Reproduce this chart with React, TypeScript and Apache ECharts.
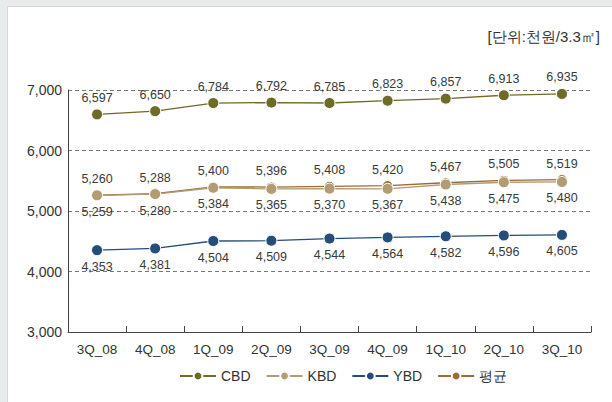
import React, { useEffect, useRef } from "react";
import * as echarts from "echarts";

const quarters = ["3Q_08", "4Q_08", "1Q_09", "2Q_09", "3Q_09", "4Q_09", "1Q_10", "2Q_10", "3Q_10"];
const cbd = [6597, 6650, 6784, 6792, 6785, 6823, 6857, 6913, 6935];
const kbd = [5259, 5280, 5384, 5365, 5370, 5367, 5438, 5475, 5480];
const ybd = [4353, 4381, 4504, 4509, 4544, 4564, 4582, 4596, 4605];
const avg = [5260, 5288, 5400, 5396, 5408, 5420, 5467, 5505, 5519];
const yTicks = [3000, 4000, 5000, 6000, 7000];

const FONT = "'Liberation Sans', Arial, sans-serif";
const fmt = (v: number) => v.toLocaleString("en-US");

function makeSeries(name: string, data: number[], color: string, pos: "top" | "bottom", size: number, z: number) {
  return {
    name,
    type: "line",
    data,
    z,
    symbol: "circle",
    symbolSize: size,
    lineStyle: { color, width: 1.3 },
    itemStyle: { color, borderColor: "#ffffff", borderWidth: 1 },
    label: {
      show: true,
      position: pos,
      distance: 4,
      color: "#3a3a3a",
      fontSize: 12.5,
      fontFamily: FONT,
      formatter: (p: any) => fmt(p.value),
    },
  };
}

export default function App() {
  const ref = useRef<HTMLDivElement>(null);
  useEffect(() => {
    if (!ref.current) return;
    const chart = echarts.init(ref.current, undefined, { renderer: "svg" });
    chart.setOption({
      animation: false,
      backgroundColor: "#e8ebeb",
      textStyle: { fontFamily: FONT },
      graphic: [
        { type: "rect", left: 7, top: 6, shape: { width: 610, height: 400 }, style: { fill: "#ffffff", stroke: "#d6d9d9", lineWidth: 1 }, z: -10 },
        { type: "text", right: 12, top: 29, style: { text: "[단위:천원/3.3㎡]", fontSize: 15, fill: "#333333", fontFamily: FONT } },
      ],
      grid: { left: 68, right: 21, top: 90, bottom: 70 },
      legend: {
        left: 174,
        top: 364,
        itemWidth: 36,
        itemHeight: 11,
        itemGap: 15,
        textStyle: { color: "#333333", fontSize: 14, fontFamily: FONT },
        data: ["CBD", "KBD", "YBD", "평균"],
      },
      xAxis: {
        type: "category",
        data: quarters,
        boundaryGap: true,
        axisLine: { lineStyle: { color: "#444444", width: 1 } },
        axisTick: { show: true, inside: true, length: 6, lineStyle: { color: "#444444" } },
        axisLabel: { color: "#333333", fontSize: 13.5, margin: 10, fontFamily: FONT },
      },
      yAxis: {
        type: "value",
        min: yTicks[0],
        max: yTicks[yTicks.length - 1],
        interval: 1000,
        axisLine: { show: true, lineStyle: { color: "#444444", width: 1 } },
        axisTick: { show: false },
        axisLabel: { color: "#333333", fontSize: 14, margin: 6, fontFamily: FONT, formatter: (v: number) => fmt(v) },
        splitLine: { show: true, lineStyle: { color: "#777777", type: [4, 3], width: 1 } },
      },
      series: [
        makeSeries("CBD", cbd, "#6e6a27", "top", 11, 4),
        makeSeries("KBD", kbd, "#b29c73", "bottom", 11, 3),
        makeSeries("YBD", ybd, "#264c7a", "bottom", 11, 4),
        makeSeries("평균", avg, "#9b6a36", "top", 10, 2),
      ],
    });
    return () => chart.dispose();
  }, []);
  return <div ref={ref} style={{ position: "fixed", left: 0, top: 0, width: 612, height: 402 }} />;
}
